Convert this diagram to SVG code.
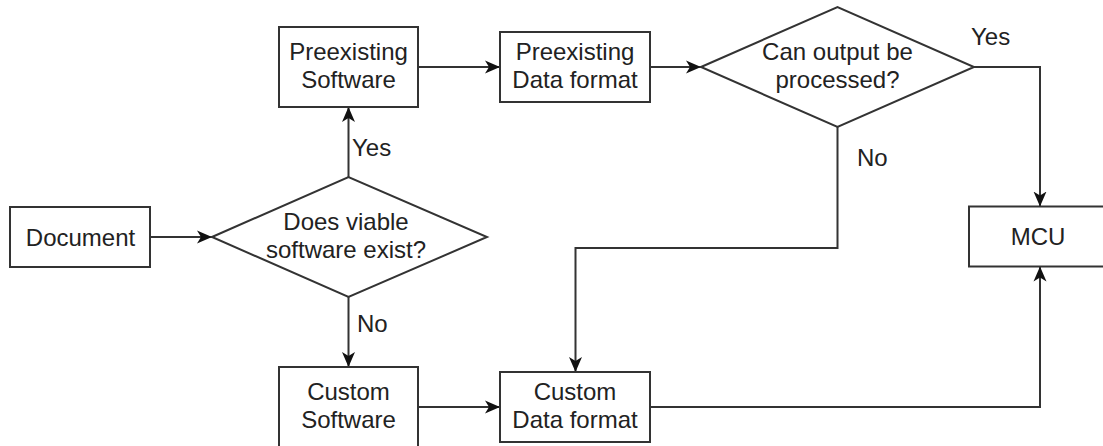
<svg xmlns="http://www.w3.org/2000/svg" width="1103" height="446" viewBox="0 0 1103 446">
  <style>
    .shape { fill: #ffffff; stroke: #333333; stroke-width: 2; }
    .edge { fill: none; stroke: #333333; stroke-width: 2; marker-end: url(#arrow); }
    text { font-family: "Liberation Sans", Arial, sans-serif; font-size: 24px; fill: #222222; }
    .c { text-anchor: middle; }
  </style>
  <defs>
    <marker id="arrow" markerUnits="userSpaceOnUse" markerWidth="16" markerHeight="14" refX="15" refY="7" orient="auto">
      <path d="M0,0.5 L15,7 L0,13.5 L4,7 Z" fill="#111111" stroke="none"/>
    </marker>
  </defs>
  <rect width="1103" height="446" fill="#ffffff"/>

  <g id="connectors">
    <path class="edge" d="M150,237 H212"/>
    <path class="edge" d="M348.5,177 V107"/>
    <path class="edge" d="M348.5,297 V367"/>
    <path class="edge" d="M418,67 H500"/>
    <path class="edge" d="M650,67 H701"/>
    <path class="edge" d="M974,67 H1040 V206.5"/>
    <path class="edge" d="M837.5,127 V248 H575.5 V372"/>
    <path class="edge" d="M418,407 H500"/>
    <path class="edge" d="M650,407 H1040 V266.5"/>
    <text x="352" y="156">Yes</text>
    <text x="357" y="332">No</text>
    <text x="971" y="45">Yes</text>
    <text x="857" y="166">No</text>
  </g>

  <g id="document">
    <rect class="shape" x="10" y="207" width="140" height="60"/>
    <text class="c" x="80.5" y="245.5">Document</text>
  </g>

  <g id="viable-software">
    <polygon class="shape" points="212,237 348.5,177 487,237 348.5,297"/>
    <text class="c" x="346" y="229.5">Does viable</text>
    <text class="c" x="346" y="257.5">software exist?</text>
  </g>

  <g id="preexisting-software">
    <rect class="shape" x="279" y="27" width="139" height="80"/>
    <text class="c" x="348.5" y="59.5">Preexisting</text>
    <text class="c" x="348.5" y="87.5">Software</text>
  </g>

  <g id="preexisting-data-format">
    <rect class="shape" x="500" y="32" width="150" height="70"/>
    <text class="c" x="575" y="59.5">Preexisting</text>
    <text class="c" x="575" y="87.5">Data format</text>
  </g>

  <g id="can-output-be-processed">
    <polygon class="shape" points="701,67 837.5,7 974,67 837.5,127"/>
    <text class="c" x="837.5" y="59.5">Can output be</text>
    <text class="c" x="837.5" y="87.5">processed?</text>
  </g>

  <g id="custom-software">
    <rect class="shape" x="279" y="367" width="139" height="80"/>
    <text class="c" x="348.5" y="399.5">Custom</text>
    <text class="c" x="348.5" y="427.5">Software</text>
  </g>

  <g id="custom-data-format">
    <rect class="shape" x="500" y="372" width="150" height="70"/>
    <text class="c" x="575" y="399.5">Custom</text>
    <text class="c" x="575" y="427.5">Data format</text>
  </g>

  <g id="mcu">
    <rect class="shape" x="969" y="206.5" width="142" height="60"/>
    <text class="c" x="1038" y="245">MCU</text>
  </g>
</svg>
